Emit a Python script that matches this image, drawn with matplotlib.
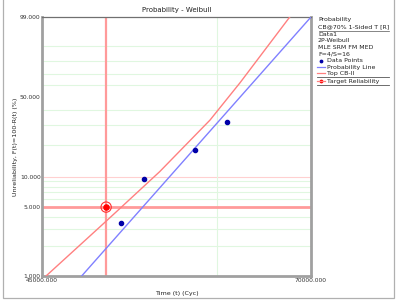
import numpy as np
import matplotlib
matplotlib.use("Agg")
import matplotlib.pyplot as plt
from matplotlib.patches import Rectangle

# ---- data ----
fail_times = [51200, 53200, 57900, 61000]
fail_unrel = [3.46, 9.49, 17.8, 31.7]

prob_line_t = [48030, 70000]
prob_line_F = [1.0, 99.0]

cb_t = [45300, 49500, 51000, 54600, 59300, 62300, 67600]
cb_F = [1.0, 3.17, 4.67, 11.2, 33.1, 62.2, 99.0]

target_t = 50000
target_F = 5.0

y_major = [1, 5, 10, 50, 99]
y_minor = [2, 3, 4, 6, 7, 8, 9, 20, 30, 40, 60, 70, 80, 90]
x_grid = [60000]
x_lim = [45000, 70000]

legend_lines = ["Probability", "CB@70% 1-Sided T [R]", "Data1", "2P-Weibull",
                "MLE SRM FM MED", "F=4/S=16", "Data Points", "Probability Line",
                "Top CB-II", "Target Reliability"]

plt.rcParams['font.family'] = ['DejaVu Sans']

fwd = lambda F: np.log(-np.log(1 - np.clip(np.asarray(F, float), 1e-6, 99.9999) / 100.0))
inv = lambda w: 100.0 * (1 - np.exp(-np.exp(np.asarray(w, float))))

W, H = 400, 300
fig = plt.figure(figsize=(4, 3), dpi=100)
ax = fig.add_axes([42 / W, 1 - 276 / H, (311 - 42) / W, (276 - 17) / H])
ax.set_xscale('log')
ax.set_yscale('function', functions=(fwd, inv))
ax.set_xlim(*x_lim)
ax.set_ylim(1, 99)

# grid
for v in y_minor:
    ax.axhline(v, color='#e0f7e0', lw=0.8, zorder=1)
ax.axhline(10, color='#ffd0d0', lw=0.8, zorder=1)
for v in x_grid:
    ax.axvline(v, color='#e0f7e0', lw=0.8, zorder=1)

# target reliability lines
ax.axhline(target_F, color='#ff9a9a', lw=2.0, zorder=2)
ax.axvline(target_t, color='#ff9a9a', lw=1.6, zorder=2)

# curves
ax.plot(prob_line_t, prob_line_F, color='#8080ff', lw=1.0, zorder=3)
ax.plot(cb_t, cb_F, color='#ff8080', lw=1.0, zorder=3)
ax.scatter(fail_times, fail_unrel, s=9, color='#0000a8', zorder=4)
ax.scatter([target_t], [target_F], s=55, facecolor='none', edgecolor='#ff3030', lw=0.8, zorder=5)
ax.scatter([target_t], [target_F], s=14, color='#ff0000', zorder=6)

# ticks
ax.set_yticks(y_major)
ax.set_yticklabels([f"{v:.3f}" for v in y_major])
ax.yaxis.set_minor_locator(matplotlib.ticker.NullLocator())
ax.set_xticks(x_lim)
ax.set_xticklabels([f"{v:.3f}" for v in x_lim])
ax.xaxis.set_minor_locator(matplotlib.ticker.NullLocator())
ax.tick_params(axis='both', length=0, labelsize=4.3, colors='#333333')
ax.tick_params(axis='y', pad=1)
ax.tick_params(axis='x', pad=1.5)

for s in ['left', 'bottom', 'right']:
    ax.spines[s].set_color('#a0a0a0')
    ax.spines[s].set_linewidth(2)
ax.spines['top'].set_color('#707070')
ax.spines['top'].set_linewidth(0.9)

ax.set_title("Probability - Weibull", fontsize=5, pad=3.5, color='#222222')
ax.set_xlabel("Time (t) (Cyc)", fontsize=4.6, labelpad=6, color='#222222')
ax.set_ylabel("Unreliability, F(t)=100-R(t) (%)", fontsize=4.6, labelpad=1.5, color='#222222')

# overlay in pixel coords for legend and frame
ov = fig.add_axes([0, 0, 1, 1], zorder=10)
ov.set_xlim(0, W)
ov.set_ylim(H, 0)
ov.axis('off')
ov.patch.set_alpha(0)
ov.add_patch(Rectangle((3, -2), 391, 300, fill=False, edgecolor='#b0b0b0', lw=0.9))

ys = [20, 26.5, 34.5, 41, 47.5, 54, 60.5, 67, 73, 81]
fs = 4.5
for i, (txt, y) in enumerate(zip(legend_lines, ys)):
    x = 318 if i < 6 else 327
    ov.text(x, y, txt, fontsize=fs, va='center', ha='left', color='#222222')
ov.plot([319, 389], [30.5, 30.5], color='#555555', lw=0.5)
ov.plot([317, 389], [76.5, 76.5], color='#555555', lw=0.6)
ov.plot([317, 389], [85, 85], color='#555555', lw=0.6)
ov.scatter([321], [60.5], s=3, color='#0000a8')
ov.plot([317, 325], [67, 67], color='#8080ff', lw=0.9)
ov.plot([317, 325], [73, 73], color='#ff8080', lw=0.9)
ov.plot([317, 325], [81, 81], color='#ff8080', lw=0.9)
ov.scatter([321], [81], s=3, color='#ff0000')

fig.savefig("out.png", dpi=100)
